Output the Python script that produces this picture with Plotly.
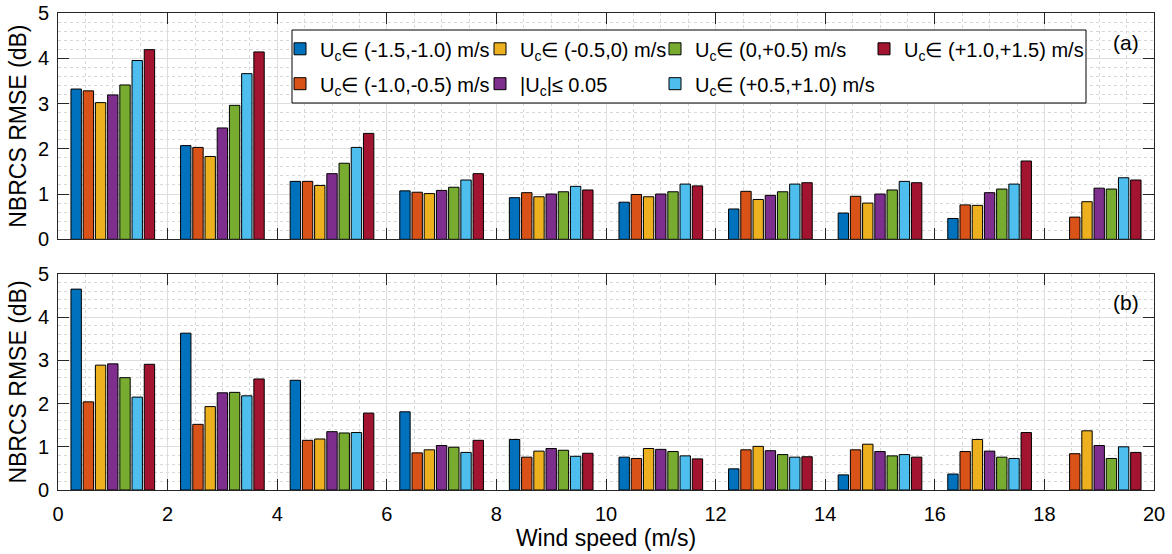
import plotly.graph_objects as go
from plotly.subplots import make_subplots

wind_centers = [1, 3, 5, 7, 9, 11, 13, 15, 17, 19]

series_labels = [
    "U<sub>c</sub>∈ (-1.5,-1.0) m/s",
    "U<sub>c</sub>∈ (-1.0,-0.5) m/s",
    "U<sub>c</sub>∈ (-0.5,0) m/s",
    "|U<sub>c</sub>|≤ 0.05",
    "U<sub>c</sub>∈ (0,+0.5) m/s",
    "U<sub>c</sub>∈ (+0.5,+1.0) m/s",
    "U<sub>c</sub>∈ (+1.0,+1.5) m/s",
]
series_colors = ["#0072BD", "#D95319", "#EDB120", "#7E2F8E", "#77AC30", "#4DBEEE", "#A2142F"]

# panel (a)
a_m15_m10 = [3.32, 2.07, 1.28, 1.07, 0.92, 0.82, 0.67, 0.58, 0.46, None]
a_m10_m05 = [3.28, 2.03, 1.28, 1.04, 1.03, 0.99, 1.06, 0.95, 0.76, 0.49]
a_m05_0 = [3.02, 1.83, 1.19, 1.01, 0.94, 0.94, 0.88, 0.80, 0.75, 0.83]
a_zero = [3.19, 2.46, 1.45, 1.08, 1.00, 1.00, 0.97, 1.00, 1.03, 1.13]
a_0_p05 = [3.41, 2.96, 1.68, 1.15, 1.05, 1.05, 1.05, 1.09, 1.11, 1.11]
a_p05_p10 = [3.95, 3.66, 2.03, 1.31, 1.17, 1.22, 1.22, 1.28, 1.22, 1.36]
a_p10_p15 = [4.19, 4.14, 2.34, 1.45, 1.09, 1.18, 1.25, 1.25, 1.73, 1.31]

# panel (b)
b_m15_m10 = [4.65, 3.63, 2.54, 1.81, 1.17, 0.76, 0.49, 0.35, 0.37, None]
b_m10_m05 = [2.04, 1.52, 1.15, 0.86, 0.76, 0.73, 0.93, 0.93, 0.89, 0.84]
b_m05_0 = [2.89, 1.93, 1.18, 0.93, 0.90, 0.96, 1.01, 1.06, 1.17, 1.37]
b_zero = [2.92, 2.25, 1.35, 1.03, 0.96, 0.94, 0.91, 0.89, 0.90, 1.03]
b_0_p05 = [2.60, 2.26, 1.32, 0.99, 0.92, 0.89, 0.82, 0.79, 0.76, 0.73]
b_p05_p10 = [2.15, 2.18, 1.33, 0.87, 0.78, 0.79, 0.76, 0.82, 0.73, 1.00]
b_p10_p15 = [2.91, 2.57, 1.78, 1.15, 0.85, 0.72, 0.77, 0.76, 1.33, 0.87]

panel_a = [a_m15_m10, a_m10_m05, a_m05_0, a_zero, a_0_p05, a_p05_p10, a_p10_p15]
panel_b = [b_m15_m10, b_m10_m05, b_m05_0, b_zero, b_0_p05, b_p05_p10, b_p10_p15]

FONT = "Liberation Sans, Arial, Helvetica, sans-serif"
AX = "#262626"

fig = make_subplots(rows=2, cols=1, shared_xaxes=False, vertical_spacing=0.05)

legend_names = ["legend", "legend2", "legend3", "legend4", "legend5", "legend6", "legend7"]
for i in range(7):
    fig.add_trace(go.Bar(x=wind_centers, y=panel_a[i], name=series_labels[i],
                         marker=dict(color=series_colors[i], line=dict(color="black", width=1)),
                         legend=legend_names[i], showlegend=True), row=1, col=1)
for i in range(7):
    fig.add_trace(go.Bar(x=wind_centers, y=panel_b[i], name=series_labels[i],
                         marker=dict(color=series_colors[i], line=dict(color="black", width=1)),
                         showlegend=False), row=2, col=1)

W, H = 1172, 554
ml, mr, mt, mb = 58, 18, 13, 64
plot_w = W - ml - mr
plot_h = H - mt - mb

def px_x(p):
    return (p - ml) / plot_w

def px_y(p):
    return (H - mb - p) / plot_h

axis_common = dict(
    showline=True, linecolor=AX, linewidth=1, mirror="ticks",
    ticks="inside", ticklen=11, tickcolor=AX, tickwidth=1,
    showgrid=True, gridcolor="#dedede", gridwidth=1, zeroline=False,
    tickfont=dict(family=FONT, size=20, color="black"),
)

fig.update_xaxes(range=[0, 20], dtick=2, tick0=0,
                 minor=dict(dtick=0.5, showgrid=True, gridcolor="#d8d8d8", griddash="dot", gridwidth=1),
                 **axis_common)
fig.update_yaxes(range=[0, 5], dtick=1, tick0=0,
                 minor=dict(dtick=0.2, showgrid=True, gridcolor="#d8d8d8", griddash="dot", gridwidth=1),
                 title=dict(text="NBRCS RMSE (dB)", font=dict(family=FONT, size=23, color="black"), standoff=4),
                 **axis_common)

fig.update_xaxes(showticklabels=False, row=1, col=1)
fig.update_xaxes(title=dict(text="Wind speed (m/s)", font=dict(family=FONT, size=23, color="black"), standoff=2),
                 ticklabelstandoff=6, row=2, col=1)
fig.update_yaxes(ticklabelstandoff=4)

fig.update_layout(
    xaxis=dict(domain=[0, 1]),
    xaxis2=dict(domain=[0, 1]),
    yaxis=dict(domain=[px_y(239.3), px_y(13)]),
    yaxis2=dict(domain=[px_y(490), px_y(274)]),
)

# legend layout: column text starts and row centres (pixels)
col_text_x = [320, 520, 695, 904]
row_y = [48.8, 83.7]
legend_slots = [(0, 0), (0, 1), (1, 0), (1, 1), (2, 0), (2, 1), (3, 0)]
for i, (c, r) in enumerate(legend_slots):
    fig.layout[legend_names[i]] = dict(
        x=px_x(col_text_x[c] - 40), y=px_y(row_y[r]), xanchor="left", yanchor="middle",
        bgcolor="rgba(0,0,0,0)", borderwidth=0, orientation="v",
        font=dict(family=FONT, size=20, color="black"), itemclick=False, itemdoubleclick=False,
    )

fig.add_shape(type="rect", xref="paper", yref="paper",
              x0=px_x(292), x1=px_x(1086), y0=px_y(103), y1=px_y(30),
              line=dict(color="black", width=1), fillcolor="white", layer="above")

fig.add_annotation(text="(a)", xref="paper", yref="paper", x=px_x(1126), y=px_y(43),
                   xanchor="center", yanchor="middle",
                   showarrow=False, font=dict(family=FONT, size=21, color="black"))
fig.add_annotation(text="(b)", xref="paper", yref="paper", x=px_x(1126), y=px_y(302),
                   xanchor="center", yanchor="middle",
                   showarrow=False, font=dict(family=FONT, size=21, color="black"))

fig.update_layout(
    width=W, height=H,
    margin=dict(l=ml, r=mr, t=mt, b=mb, autoexpand=False),
    barmode="group", bargap=0.22, bargroupgap=0.15,
    plot_bgcolor="white", paper_bgcolor="white",
    font=dict(family=FONT, color="black"),
)

fig.write_html("out.html")
